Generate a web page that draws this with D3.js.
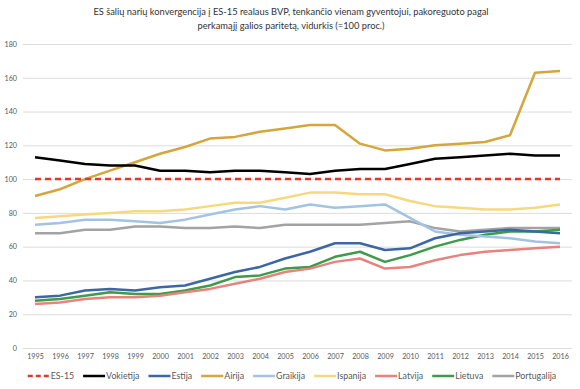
<!DOCTYPE html>
<html>
<head>
<meta charset="utf-8">
<script src="https://cdn.jsdelivr.net/npm/d3@7"></script>
<style>
  body { margin: 0; background: #fff; }
  text { font-family: Lato, "Open Sans", sans-serif; }
</style>
</head>
<body>
<svg id="chart" width="580" height="389"></svg>
<script>
// ===== data =====
let years = d3.range(1995, 2017)
let seriesNames = ['ES-15', 'Vokietija', 'Estija', 'Airija', 'Graikija', 'Ispanija', 'Latvija', 'Lietuva', 'Portugalija']
let es15 = years.map(() => 100)
let vokietija = [113, 111, 109, 108, 108, 105, 105, 104, 105, 105, 104, 103, 105, 106, 106, 109, 112, 113, 114, 115, 114, 114]
let estija = [30, 31, 34, 35, 34, 36, 37, 41, 45, 48, 53, 57, 62, 62, 58, 59, 65, 68, 69, 70, 69, 68]
let airija = [90, 94, 100, 105, 110, 115, 119, 124, 125, 128, 130, 132, 132, 121, 117, 118, 120, 121, 122, 126, 163, 164]
let graikija = [73, 74, 76, 76, 75, 74, 76, 79, 82, 84, 82, 85, 83, 84, 85, 77, 69, 67, 66, 65, 63, 62]
let ispanija = [77, 78, 79, 80, 81, 81, 82, 84, 86, 86, 89, 92, 92, 91, 91, 87, 84, 83, 82, 82, 83, 85]
let latvija = [26, 27, 29, 30, 30, 31, 33, 35, 38, 41, 45, 47, 51, 53, 47, 48, 52, 55, 57, 58, 59, 60]
let lietuva = [28, 29, 31, 33, 32, 32, 34, 37, 42, 43, 47, 48, 54, 57, 51, 55, 60, 64, 67, 69, 69, 70]
let portugalija = [68, 68, 70, 70, 72, 72, 71, 71, 72, 71, 73, 73, 73, 73, 74, 75, 71, 69, 70, 71, 71, 71]
let yTicks = [0, 20, 40, 60, 80, 100, 120, 140, 160, 180]
let titleLines = ['ES šalių narių konvergencija į ES-15 realaus BVP, tenkančio vienam gyventojui, pakoreguoto pagal',
  'perkamąjį galios paritetą, vidurkis (=100 proc.)']

let values = [es15, vokietija, estija, airija, graikija, ispanija, latvija, lietuva, portugalija]
let colors = ['#df3a2e', '#000000', '#3c67a3', '#d4a63c', '#a3c3e3', '#f6d97f', '#e7837d', '#3f9a4a', '#a3a3a3']

let data = seriesNames.map((name, i) => ({
  name: name,
  color: colors[i],
  dashed: i === 0,
  values: years.map((yr, j) => ({year: yr, v: values[i][j]}))
}))

// ===== svg =====
let svg = d3.select('#chart')

let x = d3.scaleLinear().domain([1995, 2016]).range([35, 560])
let y = d3.scaleLinear().domain([0, 180]).range([348, 44])

svg.selectAll('.title')
  .data(titleLines)
  .enter().append('text')
  .attr('x', 291)
  .attr('y', (d, i) => 15 + i * 14)
  .attr('text-anchor', 'middle')
  .attr('font-size', 9.3)
  .attr('fill', '#333')
  .text(d => d)

// gridlines + y labels
let yAxis = svg.append('g')
  .attr('transform', 'translate(23,0)')
  .call(d3.axisLeft(y).tickValues(yTicks).tickSize(-549).tickPadding(6))
yAxis.select('.domain').remove()
yAxis.selectAll('.tick line').attr('stroke', '#dcdcdc').attr('stroke-width', 1)
yAxis.selectAll('.tick text').attr('fill', '#595959').attr('font-size', 7.2)
  .style('font-family', 'Lato, sans-serif')

// x labels
let xAxis = svg.append('g')
  .attr('transform', 'translate(0,348)')
  .call(d3.axisBottom(x).tickValues(years).tickFormat(d3.format('d')).tickSize(0).tickPadding(6))
xAxis.select('.domain').remove()
xAxis.selectAll('.tick text').attr('fill', '#595959').attr('font-size', 7.2)
  .style('font-family', 'Lato, sans-serif')

// lines
let line = d3.line()
  .x(d => x(d.year))
  .y(d => y(d.v))

let drawOrder = [8, 7, 6, 5, 4, 3, 2, 1, 0]
svg.selectAll('.series')
  .data(drawOrder.map(i => data[i]))
  .enter().append('path')
  .attr('class', 'series')
  .attr('d', d => line(d.values))
  .attr('fill', 'none')
  .attr('stroke', d => d.color)
  .attr('stroke-width', 2.5)
  .attr('stroke-dasharray', d => d.dashed ? '6,4' : null)
  .attr('stroke-linejoin', 'round')

// legend, centred under the plot
let legend = svg.append('g')
let lx = 0
data.forEach(function(d) {
  let item = legend.append('g').attr('transform', 'translate(' + lx + ',0)')
  item.append('line')
    .attr('x1', 0).attr('x2', 22)
    .attr('stroke', d.color)
    .attr('stroke-width', 2.5)
    .attr('stroke-dasharray', d.dashed ? '5,3' : null)
  let t = item.append('text')
    .attr('x', 23)
    .attr('dy', '0.35em')
    .attr('font-size', 8.8)
    .attr('fill', '#595959')
    .text(d.name)
  lx += 23 + t.node().getComputedTextLength() + 9
})
let legendWidth = lx - 9
legend.attr('transform', 'translate(' + (292 - legendWidth / 2) + ',376)')
</script>
</body>
</html>
